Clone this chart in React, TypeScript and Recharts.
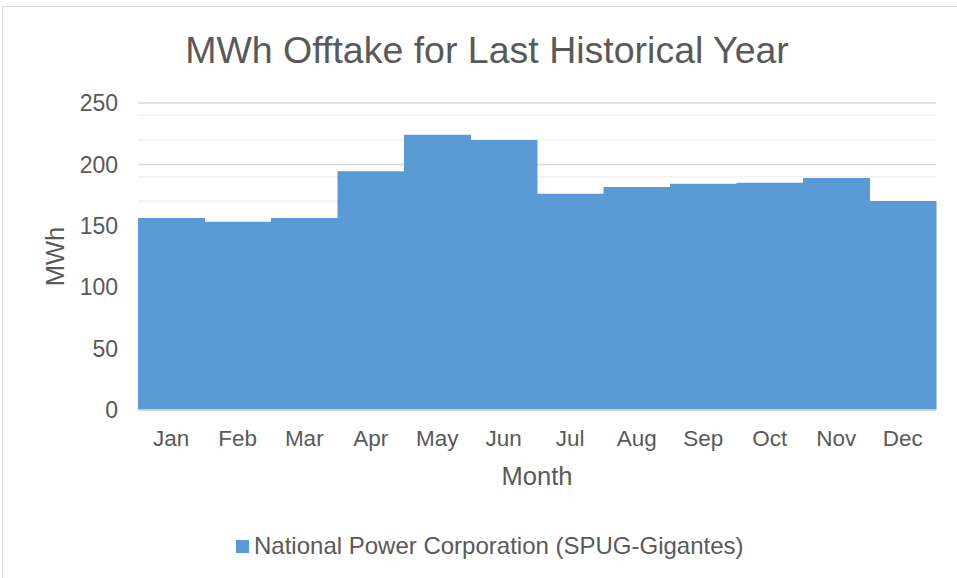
import { Bar, BarChart, CartesianGrid, Label, XAxis, YAxis } from 'recharts';

const MONTHS = ['Jan', 'Feb', 'Mar', 'Apr', 'May', 'Jun', 'Jul', 'Aug', 'Sep', 'Oct', 'Nov', 'Dec'];
const OFFTAKE_MWH = [156.3, 153.2, 156.3, 194.4, 224.2, 219.8, 176.0, 181.6, 184.3, 185.0, 189.0, 170.2];
const Y_TICKS = [0, 50, 100, 150, 200, 250];
const MINOR_TICKS = [10, 20, 30, 40, 60, 70, 80, 90, 110, 120, 130, 140, 160, 170, 180, 190, 210, 220, 230, 240];
const SERIES_NAME = 'National Power Corporation (SPUG-Gigantes)';

const BAR = '#5b9bd5';
const TEXT = '#595959';
const MAJOR = '#d9d9d9';
const MINOR = '#f2f2f2';
const FONT = '"Liberation Sans", Arial, sans-serif';

const data = MONTHS.map((m, i) => ({ month: m, value: OFFTAKE_MWH[i] }));

export default function App() {
  return (
    <div style={{ position: 'fixed', left: 0, top: 0, width: 957, height: 578, background: '#fff', fontFamily: FONT }}>
      <div
        style={{
          position: 'absolute',
          left: 2,
          top: 6,
          width: 970,
          height: 600,
          border: `1px solid ${MAJOR}`,
          boxSizing: 'border-box',
        }}
      />
      <div
        style={{
          position: 'absolute',
          left: 0,
          width: 974,
          top: 26,
          textAlign: 'center',
          fontSize: 37.5,
          color: TEXT,
          lineHeight: '48px',
          whiteSpace: 'nowrap',
        }}
      >
        MWh Offtake for Last Historical Year
      </div>
      <div style={{ position: 'absolute', left: 0, top: 0 }}>
        <BarChart
          width={957}
          height={578}
          data={data}
          barCategoryGap={0}
          margin={{ top: 103, right: 21, left: 0, bottom: 88 }}
        >
          <CartesianGrid horizontalValues={MINOR_TICKS} vertical={false} stroke={MINOR} strokeWidth={1.5} />
          <CartesianGrid vertical={false} stroke={MAJOR} strokeWidth={1.5} />
          <XAxis
            dataKey="month"
            height={80}
            tickLine={false}
            tickSize={0}
            tickMargin={20}
            axisLine={{ stroke: MAJOR, strokeWidth: 1.5 }}
            tick={{ fill: TEXT, fontSize: 22.5, fontFamily: FONT }}
          >
            <Label value="Month" position="center" dy={26} fill={TEXT} fontSize={25.5} fontFamily={FONT} />
          </XAxis>
          <YAxis
            width={138}
            domain={[0, 250]}
            ticks={Y_TICKS}
            tickLine={false}
            tickSize={0}
            tickMargin={20}
            axisLine={false}
            tick={{ fill: TEXT, fontSize: 23, fontFamily: FONT }}
          >
            <Label value="MWh" angle={-90} position="center" dx={-14} fill={TEXT} fontSize={25.5} fontFamily={FONT} />
          </YAxis>
          <Bar dataKey="value" fill={BAR} name={SERIES_NAME} isAnimationActive={false} />
        </BarChart>
      </div>
      <div
        style={{
          position: 'absolute',
          left: 236,
          top: 532,
          display: 'flex',
          alignItems: 'center',
          whiteSpace: 'nowrap',
          fontSize: 24,
          color: TEXT,
        }}
      >
        <span style={{ display: 'inline-block', width: 13, height: 13, background: BAR, marginRight: 5 }} />
        {SERIES_NAME}
      </div>
    </div>
  );
}
